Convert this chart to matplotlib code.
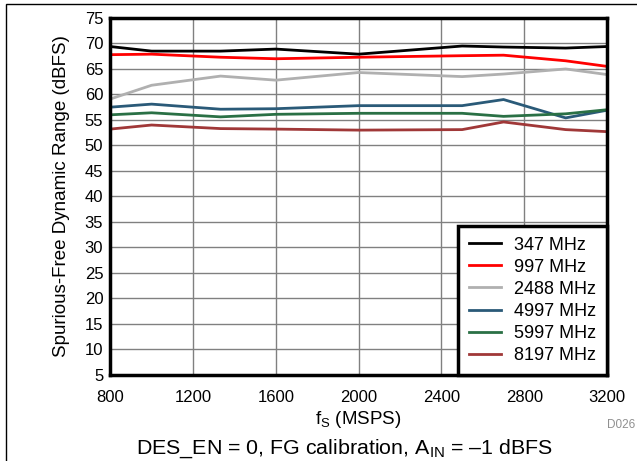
import matplotlib
matplotlib.use('Agg')
import matplotlib.pyplot as plt
from matplotlib.patches import Rectangle

plt.rcParams['font.family'] = ['Liberation Sans', 'DejaVu Sans']
plt.rcParams['mathtext.fontset'] = 'custom'
plt.rcParams['mathtext.rm'] = 'Liberation Sans'
plt.rcParams['mathtext.it'] = 'Liberation Sans'

# sample rate (MSPS)
fs = [800, 1000, 1333, 1600, 2000, 2500, 2700, 3000, 3200]

sfdr_347 = [69.4, 68.5, 68.5, 68.9, 67.9, 69.5, 69.3, 69.1, 69.4]
sfdr_997 = [67.8, 67.9, 67.3, 67.0, 67.3, 67.6, 67.7, 66.6, 65.5]
sfdr_2488 = [59.1, 61.8, 63.6, 62.8, 64.3, 63.5, 64.0, 65.0, 63.9]
sfdr_4997 = [57.5, 58.1, 57.1, 57.2, 57.8, 57.8, 59.0, 55.4, 56.9]
sfdr_5997 = [56.0, 56.4, 55.6, 56.1, 56.3, 56.3, 55.7, 56.2, 57.0]
sfdr_8197 = [53.2, 54.0, 53.3, 53.2, 53.0, 53.1, 54.6, 53.1, 52.7]

labels = ['347 MHz', '997 MHz', '2488 MHz', '4997 MHz', '5997 MHz', '8197 MHz']
colors = ['#000000', '#ff0000', '#b0b0b0', '#2a5a78', '#2a7045', '#a03838']
series = [sfdr_347, sfdr_997, sfdr_2488, sfdr_4997, sfdr_5997, sfdr_8197]

fig = plt.figure(figsize=(6.37, 4.61), dpi=100)
ax = fig.add_axes([0.173, 0.187, 0.78, 0.774])

for vals, lab, col in zip(series, labels, colors):
    ax.plot(fs, vals, color=col, lw=2, label=lab)

ax.set_xlim(800, 3200)
ax.set_ylim(5, 75)
ax.set_xticks(range(800, 3201, 400))
ax.set_yticks(range(5, 76, 5))
ax.grid(True, color='#808080', lw=1)
ax.set_axisbelow(True)
ax.tick_params(length=0, labelsize=12)
ax.tick_params(axis='y', pad=5)
ax.tick_params(axis='x', pad=11)
for s in ax.spines.values():
    s.set_linewidth(2.5)

ax.set_xlabel('f$_\\mathregular{S}$ (MSPS)', fontsize=13.5)
ax.xaxis.set_label_coords(0.5, -0.095)
ax.set_ylabel('Spurious-Free Dynamic Range (dBFS)', fontsize=13.5)
ax.yaxis.set_label_coords(-0.08, 0.5)

leg = ax.legend(loc='lower right', fontsize=13, frameon=True, fancybox=False,
                handlelength=1.75, borderaxespad=0, labelspacing=0.28,
                borderpad=0.6, handletextpad=0.75)
leg.get_frame().set_edgecolor('black')
leg.get_frame().set_linewidth(2.5)
leg.get_frame().set_alpha(1)

fig.text(0.997, 0.078, 'D026', fontsize=8.5, color='#909090', ha='right', va='center')
fig.text(0.541, 0.026, 'DES_EN = 0, FG calibration, A$_\\mathregular{IN}$ = \u20131 dBFS',
         fontsize=15.4, ha='center', va='center')

# figure frame
fig.patches.append(Rectangle((0.009, -0.1), 1.1, 1.0913, transform=fig.transFigure,
                             fill=False, edgecolor='black', lw=1))

fig.savefig('out.png', dpi=100)
